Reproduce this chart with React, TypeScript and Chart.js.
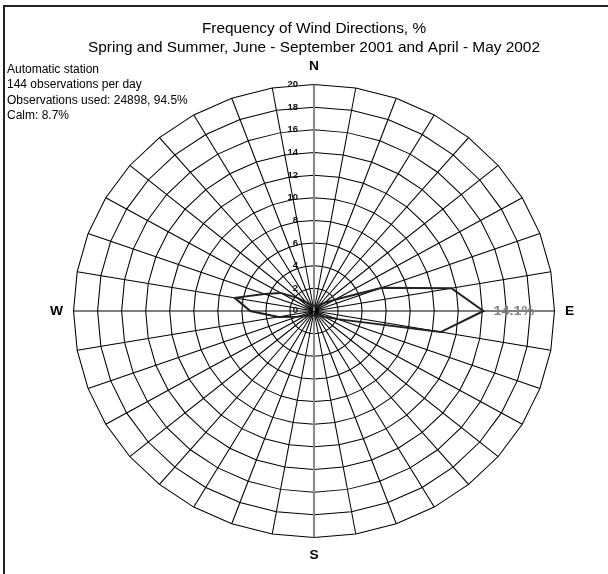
import React, { useEffect, useRef } from "react";
import { Chart, registerables } from "chart.js";

Chart.register(...registerables);

const FONT = '"Liberation Sans", Arial, Helvetica, sans-serif';

// 36 directions, 10 degrees apart, clockwise from North
const DIRECTION_LABELS = [
  "N", "", "", "", "", "", "", "", "",
  "E", "", "", "", "", "", "", "", "",
  "S", "", "", "", "", "", "", "", "",
  "W", "", "", "", "", "", "", "", "",
];

// Frequency of wind direction, % (0°, 10°, ... 350°)
const FREQUENCY = [
  0.5, 0.4, 0.4, 0.5, 0.7, 1.1, 2.0, 6.0, 11.6,
  14.1, 10.7, 2.1, 1.0, 0.6, 0.5, 0.4, 0.4, 0.4,
  0.4, 0.4, 0.4, 0.4, 0.5, 0.6, 0.9, 1.5, 3.0,
  5.3, 6.7, 4.4, 3.2, 1.8, 1.0, 0.7, 0.5, 0.5,
];

const SCALE_MIN = 0;
const SCALE_MAX = 20;
const SCALE_STEP = 2;

const TITLE_LINES = [
  "Frequency of Wind Directions, %",
  "Spring and Summer, June - September 2001 and April - May 2002",
];

const INFO_LINES = [
  "Automatic station",
  "144 observations per day",
  "Observations used: 24898, 94.5%",
  "Calm: 8.7%",
];

// the original rose is drawn slightly wider than tall
const ASPECT_X = 1.062;

const stretchPlugin = {
  id: "roseStretch",
  beforeDraw(chart: any) {
    const ctx = chart.ctx;
    const cx = chart.scales.r.xCenter;
    ctx.save();
    ctx.translate(cx, 0);
    ctx.scale(ASPECT_X, 1);
    ctx.translate(-cx, 0);
  },
  afterDraw(chart: any) {
    chart.ctx.restore();
  },
};

const overlayPlugin = {
  id: "roseOverlay",
  afterDatasetsDraw(chart: any) {
    const scale = chart.scales.r;
    const ctx = chart.ctx;
    ctx.save();
    // radial tick labels, right-aligned left of the N axis
    ctx.font = `bold 9px ${FONT}`;
    ctx.fillStyle = "#111";
    ctx.textAlign = "right";
    ctx.textBaseline = "middle";
    scale.ticks.forEach((t: any) => {
      const d = scale.getDistanceFromCenterForValue(t.value);
      ctx.fillText(String(t.value), scale.xCenter - 15, scale.yCenter - d);
    });
    // peak value label
    const data: number[] = chart.data.datasets[0].data;
    let idx = 0;
    data.forEach((v, i) => {
      if (v > data[idx]) idx = i;
    });
    const pos = scale.getPointPosition(idx, scale.getDistanceFromCenterForValue(data[idx]));
    ctx.font = `bold 13.5px ${FONT}`;
    ctx.fillStyle = "#808080";
    ctx.textAlign = "left";
    ctx.fillText(`${data[idx]}%`, pos.x + 9.5, pos.y);
    ctx.restore();
  },
};

export default function App() {
  const canvasRef = useRef<HTMLCanvasElement | null>(null);

  useEffect(() => {
    const canvas = canvasRef.current;
    if (!canvas) return;
    const chart = new Chart(canvas, {
      type: "radar",
      data: {
        labels: DIRECTION_LABELS,
        datasets: [
          {
            data: FREQUENCY,
            borderColor: "#222",
            borderWidth: 2,
            pointRadius: 0,
            fill: false,
            tension: 0,
          },
        ],
      },
      options: {
        responsive: false,
        animation: false,
        devicePixelRatio: 1,
        layout: { padding: { top: 20, left: 20, right: 0, bottom: 9 } },
        plugins: {
          legend: { display: false },
          tooltip: { enabled: false },
          title: {
            display: true,
            text: TITLE_LINES,
            color: "#000",
            font: { family: FONT, size: 14.5, weight: "normal", lineHeight: 1.31 },
            padding: { top: 0, bottom: 1 },
          },
        },
        scales: {
          r: {
            min: SCALE_MIN,
            max: SCALE_MAX,
            ticks: { stepSize: SCALE_STEP, display: false },
            grid: { circular: false, color: "#000", lineWidth: 1 },
            angleLines: {
              color: (c: any) => (c.index % 18 === 0 ? "#8a8a8a" : "#000"),
              lineWidth: (c: any) => (c.index % 18 === 0 ? 2 : 1),
            },
            pointLabels: {
              color: "#000",
              font: { family: FONT, size: 13, weight: "bold" },
              padding: 10,
            },
          },
        },
      },
      plugins: [stretchPlugin, overlayPlugin],
    });
    return () => chart.destroy();
  }, []);

  return (
    <div
      style={{
        position: "fixed",
        left: 0,
        top: 0,
        width: 608,
        height: 574,
        background: "#fff",
        overflow: "hidden",
      }}
    >
      <canvas ref={canvasRef} width={608} height={574} style={{ position: "absolute", left: 0, top: 0 }} />
      <div
        style={{
          position: "absolute",
          left: 3,
          top: 5,
          width: 700,
          height: 700,
          borderLeft: "2px solid #222",
          borderTop: "2px solid #222",
          pointerEvents: "none",
        }}
      />
      <div
        style={{
          position: "absolute",
          left: 7,
          top: 62,
          fontFamily: FONT,
          fontSize: 12,
          lineHeight: "15.3px",
          color: "#000",
          whiteSpace: "nowrap",
        }}
      >
        {INFO_LINES.map((l) => (
          <div key={l}>{l}</div>
        ))}
      </div>
    </div>
  );
}
